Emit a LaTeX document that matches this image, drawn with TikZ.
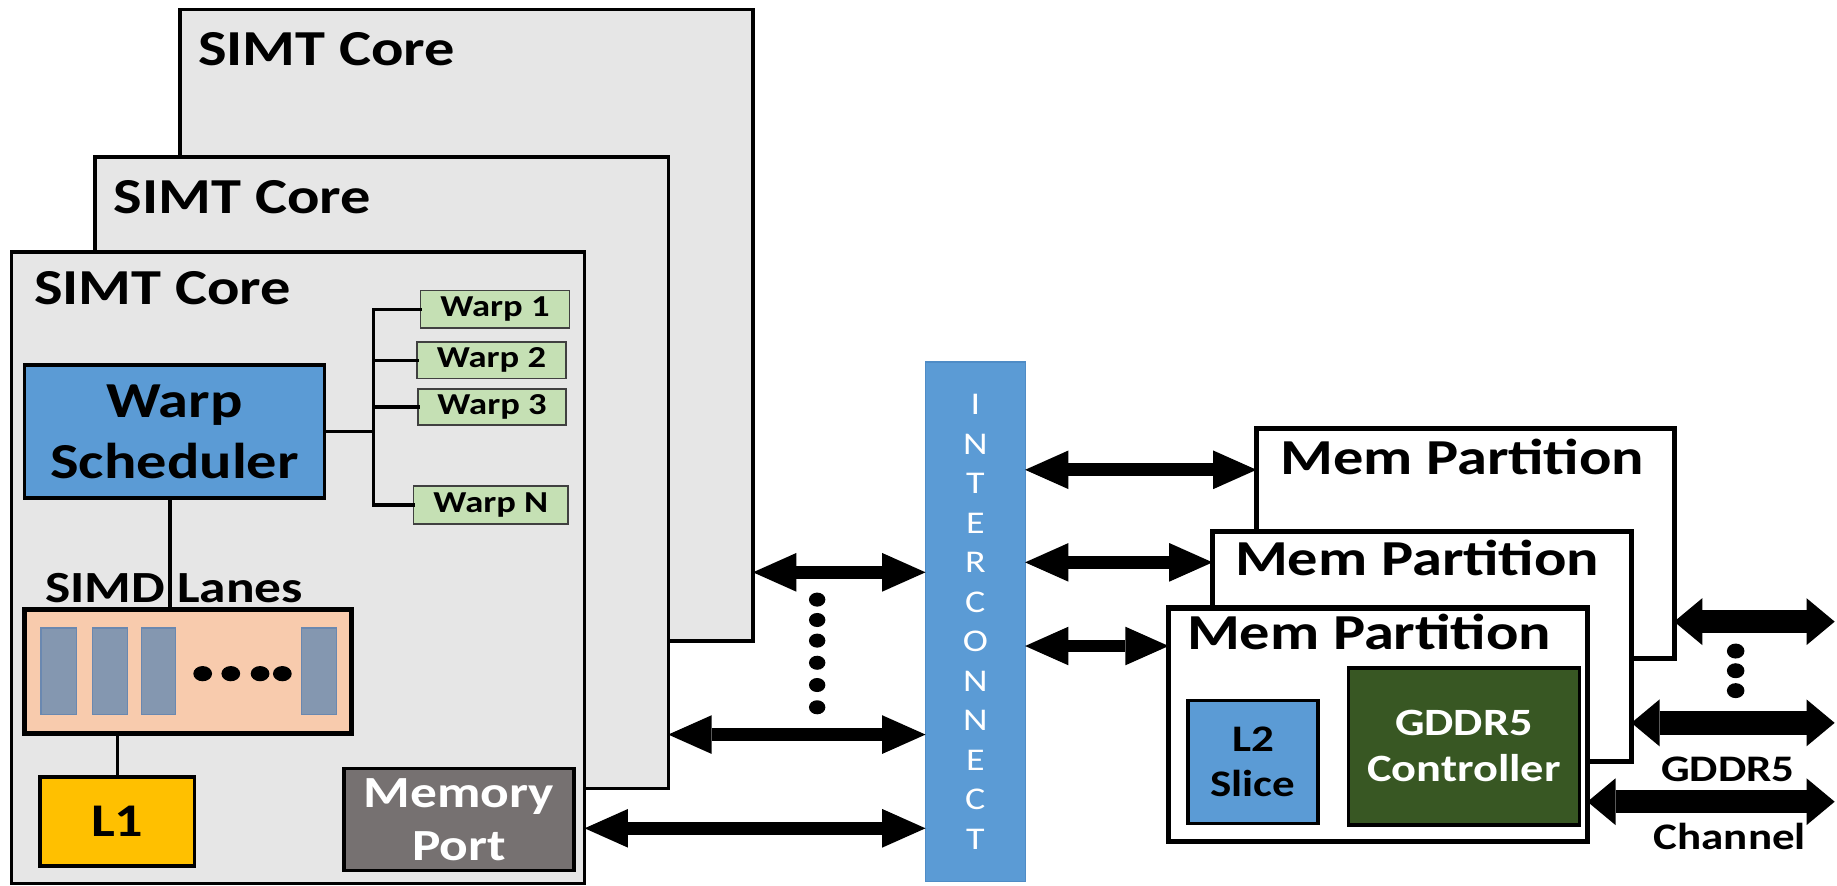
\documentclass[tikz,border=0pt]{standalone}
\usepackage{fontspec}
\setmainfont{Carlito}[FakeStretch=1.2]
\usetikzlibrary{arrows.meta}
\definecolor{coreg}{HTML}{E6E6E6}
\definecolor{schblue}{HTML}{5B9BD5}
\definecolor{warpg}{HTML}{C5E0B4}
\definecolor{lanebg}{HTML}{F8CBAD}
\definecolor{lanebarc}{HTML}{8497B0}
\definecolor{lanebd}{HTML}{6A88B0}
\definecolor{l1y}{HTML}{FFC000}
\definecolor{portg}{HTML}{767171}
\definecolor{icbd}{HTML}{4F8CC6}
\definecolor{gddrg}{HTML}{385723}
\definecolor{warpbd}{HTML}{404040}
\newcommand\mkbox[7]{\node[#1, minimum width={(#5-#3)*1pt}, minimum height={(#6-#4)*1pt}] (#2) at ({(#3+#5)/2},{(#4+#6)/2}) {#7};}
\tikzset{
  basebox/.style={draw=black, inner sep=0pt, outer sep=0pt, align=center},
  corebox/.style={basebox, fill=coreg, line width=3pt},
  partbox/.style={basebox, fill=white, line width=4.5pt},
  schbox/.style={basebox, fill=schblue, line width=3pt, font=\fontsize{43}{52}\selectfont\bfseries},
  warpbox/.style={basebox, fill=warpg, draw=warpbd, line width=1.5pt, font=\fontsize{26}{30}\selectfont\bfseries},
  lanesbox/.style={basebox, fill=lanebg, line width=4pt},
  lanebar/.style={basebox, fill=lanebarc, draw=lanebd, line width=1pt},
  l1box/.style={basebox, fill=l1y, line width=3pt, font=\fontsize{40}{48}\selectfont\bfseries},
  portbox/.style={basebox, fill=portg, line width=3pt, text=white, font=\fontsize{38}{45.5}\selectfont\bfseries},
  icbox/.style={basebox, fill=schblue, draw=icbd, line width=1pt, text=white, font=\fontsize{27}{33.7}\selectfont},
  l2box/.style={basebox, fill=schblue, line width=3pt, font=\fontsize{32}{38.5}\selectfont\bfseries},
  gddrbox/.style={basebox, fill=gddrg, line width=3pt, text=white, font=\fontsize{33}{39}\selectfont\bfseries},
  ttl/.style={anchor=base west, inner sep=0pt, font=\fontsize{43}{52}\selectfont\bfseries},
  simdlbl/.style={anchor=base west, inner sep=0pt, font=\fontsize{38}{46}\selectfont\bfseries},
  chanlbl/.style={anchor=base, inner sep=0pt, font=\fontsize{32}{38}\selectfont\bfseries},
  wire/.style={line width=3pt, line cap=rect},
  thinwire/.style={line width=2.5pt},
  link/.style={line width=11pt, {Triangle[length=37pt,width=33pt,line width=0pt]}-{Triangle[length=37pt,width=33pt,line width=0pt]}},
  fatlink/.style={line width=20pt, {Triangle[length=24pt,width=40pt,line width=0pt]}-{Triangle[length=24pt,width=40pt,line width=0pt]}},
  dotfill/.style={fill=black}
}
\begin{document}
\begin{tikzpicture}[x=1pt, y=-1pt]
\fill[white] (0,0) rectangle (1568,756);
\useasboundingbox (0,0) rectangle (1568,756);
% SIMT cores
\mkbox{corebox}{core3}{153.5}{8}{642.7}{547}{}
\node[ttl] (c3lab) at (169,55.5) {SIMT Core};
\mkbox{corebox}{core2}{81}{134}{570.4}{673}{}
\node[ttl] (c2lab) at (97,182) {SIMT Core};
\mkbox{corebox}{core1}{10}{215}{499}{754}{}
\node[ttl] (c1lab) at (29,260) {SIMT Core};
% inside core 1
\mkbox{schbox}{wsch}{21}{311.5}{277}{425}{Warp\\Scheduler}
\mkbox{warpbox}{w1}{359}{248}{486}{280}{Warp 1}
\mkbox{warpbox}{w2}{356}{292}{483}{323}{Warp 2}
\mkbox{warpbox}{w3}{357}{332}{483}{363}{Warp 3}
\mkbox{warpbox}{wn}{353}{415}{485}{447}{Warp N}
\coordinate (busx) at (319,0);
\coordinate (slx) at (145,0);
\draw[wire] (wsch.east) -- (wsch.east -| busx);
\draw[wire] (w1.west -| busx) -- (wn.west -| busx);
\foreach \w in {w1,w2,w3,wn} \draw[wire] (\w.west -| busx) -- (\w.west);
\node[simdlbl] (simd) at (38.5,514.4) {SIMD Lanes};
\mkbox{lanesbox}{lanes}{21}{520}{300}{626}{}
\draw[wire, line cap=butt] (wsch.south -| slx) -- (lanes.north -| slx);
\mkbox{lanebar}{lane1}{35}{536}{65}{610}{}
\mkbox{lanebar}{lane2}{79}{536}{109}{610}{}
\mkbox{lanebar}{lane3}{121}{536}{150}{610}{}
\mkbox{lanebar}{lane4}{257}{536}{287}{610}{}
\foreach \dx in {173,197,222,241} \fill[dotfill] (\dx,575) ellipse [x radius=8pt, y radius=6.5pt];
\mkbox{l1box}{l1}{34}{663}{166}{739}{L1}
\draw[thinwire] (lanes.south -| l1.north) -- (l1.north);
\mkbox{portbox}{mport}{293.6}{656}{490}{743}{Memory\\Port}
% interconnect
\mkbox{icbox}{ic}{790}{309}{875}{752.5}{I\\N\\T\\E\\R\\C\\O\\N\\N\\E\\C\\T}
% memory partitions
\mkbox{partbox}{mp3}{1072.5}{365.5}{1429}{562}{}
\node[ttl] (m3lab) at (1092.5,404.6) {Mem Partition};
\mkbox{partbox}{mp2}{1035}{453.5}{1392.5}{650}{}
\node[ttl] (m2lab) at (1054,491.4) {Mem Partition};
\mkbox{partbox}{mp1}{997.5}{519}{1355}{718.5}{}
\node[ttl] (m1lab) at (1013,554.8) {Mem Partition};
\mkbox{l2box}{l2}{1014}{598}{1125}{703}{L2\\Slice}
\mkbox{gddrbox}{gddr}{1151}{570}{1348}{704}{GDDR5\\Controller}
% arrows
\coordinate (ya1) at (0,488.5);
\coordinate (ya2) at (0,627);
\coordinate (ya3) at (0,707);
\coordinate (yb1) at (0,401);
\coordinate (yb2) at (0,480);
\coordinate (yb3) at (0,551.4);
\coordinate (yc1) at (0,530.6);
\coordinate (yc2) at (0,617);
\coordinate (yc3) at (0,684.3);
\coordinate (rend) at (1566,0);
\draw[link] (core3.east |- ya1) -- (ic.west |- ya1);
\draw[link] (core2.east |- ya2) -- (ic.west |- ya2);
\draw[link] (core1.east |- ya3) -- (ic.west |- ya3);
\draw[link] (ic.east |- yb1) -- (mp3.west |- yb1);
\draw[link] (ic.east |- yb2) -- (mp2.west |- yb2);
\draw[link] (ic.east |- yb3) -- (mp1.west |- yb3);
\draw[fatlink] (mp3.east |- yc1) -- (rend |- yc1);
\draw[fatlink] (mp2.east |- yc2) -- (rend |- yc2);
\draw[fatlink] (mp1.east |- yc3) -- (rend |- yc3);
\foreach \dy in {511.8,529.2,546.8,565.7,584.7,603.7} \fill[dotfill] (697.5,\dy) ellipse [x radius=7pt, y radius=6pt];
\foreach \dy in {555.7,572.5,589.5} \fill[dotfill] (1481.5,\dy) ellipse [x radius=7.5pt, y radius=6.4pt];
\node[chanlbl] (glab) at (1475,667) {GDDR5};
\node[chanlbl] (clab) at (1476.5,725) {Channel};
\end{tikzpicture}
\end{document}
